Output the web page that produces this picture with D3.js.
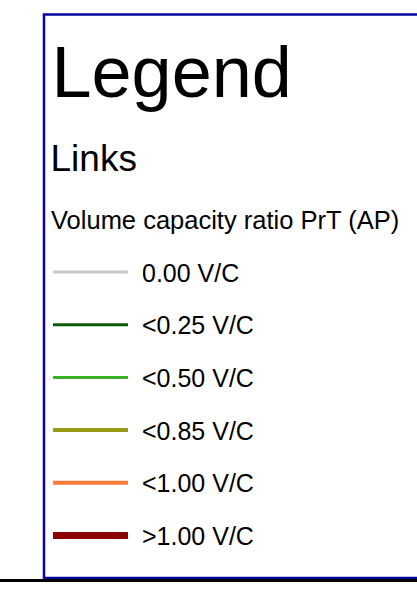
<!DOCTYPE html>
<html>
<head>
<meta charset="utf-8">
<script src="https://cdn.jsdelivr.net/npm/d3@7"></script>
<style>
html,body{margin:0;padding:0;background:#fff;}
svg{display:block;font-family:"Liberation Sans",Arial,sans-serif;}
</style>
</head>
<body>
<div id="chart"></div>
<script>
const title = "Legend";
const sectionTitle = "Links";
const attributeTitle = "Volume capacity ratio PrT (AP)";
const classLabels = ["0.00 V/C", "<0.25 V/C", "<0.50 V/C", "<0.85 V/C", "<1.00 V/C", ">1.00 V/C"];
const classColors = ["#c8c8c8", "#0a5a0a", "#3cb22a", "#949a12", "#ff7a36", "#8b0000"];
const classWidths = [3, 3, 3, 4, 4, 7];

const W = 417, H = 592;
const svg = d3.select("#chart").append("svg").attr("width", W).attr("height", H);

// frame
svg.append("rect").attr("x", 44).attr("y", 14.5).attr("width", 400).attr("height", 563.5)
  .attr("fill", "#fff").attr("stroke", "#0505a0").attr("stroke-width", 2.5);
svg.append("line").attr("x1", 0).attr("x2", W).attr("y1", 580.5).attr("y2", 580.5)
  .attr("stroke", "#000").attr("stroke-width", 3);

svg.append("text").attr("x", 51.5).attr("y", 97).attr("font-size", 72).attr("fill", "#000").text(title);
svg.append("text").attr("x", 50.5).attr("y", 171).attr("font-size", 37).attr("fill", "#000").text(sectionTitle);
svg.append("text").attr("x", 51).attr("y", 229).attr("font-size", 25.5).attr("fill", "#000").text(attributeTitle);

const y = d3.scalePoint().domain(d3.range(classLabels.length)).range([272, 535.5]);

const items = svg.append("g").selectAll("g").data(classLabels).join("g")
  .attr("transform", (d, i) => `translate(0,${y(i)})`);
items.append("line").attr("x1", 53).attr("x2", 128).attr("y1", 0).attr("y2", 0)
  .attr("stroke", (d, i) => classColors[i]).attr("stroke-width", (d, i) => classWidths[i]);
items.append("text").attr("x", 142).attr("y", 9.5).attr("font-size", 25).attr("fill", "#000").text(d => d);
</script>
</body>
</html>
